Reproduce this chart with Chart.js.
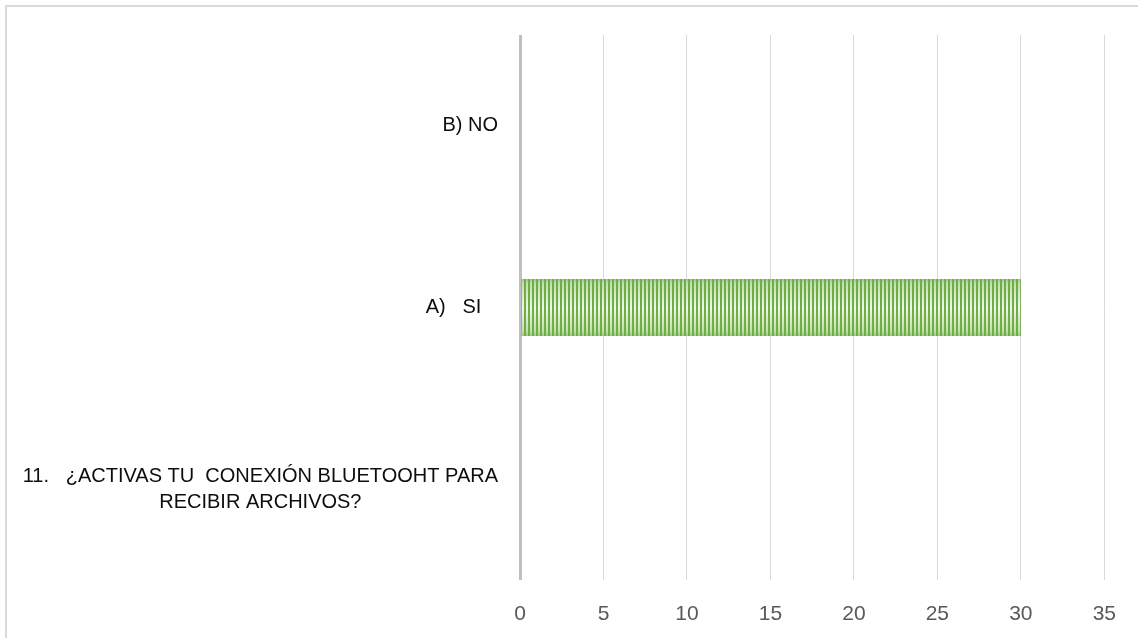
<!DOCTYPE html>
<html>
<head>
<meta charset="utf-8">
<script src="https://cdn.jsdelivr.net/npm/chart.js@4"></script>
<style>
  html, body { margin: 0; padding: 0; background: #ffffff; }
  #wrap { position: relative; width: 1138px; height: 638px; overflow: hidden; }
  #wrap::before {
    content: ""; position: absolute; left: 5px; top: 5px;
    width: 2000px; height: 2000px; border: 2px solid #d9d9d9; box-sizing: border-box;
  }
  canvas { position: absolute; left: 0; top: 0; }
</style>
</head>
<body>
<div id="wrap"><canvas id="chart" width="1138" height="638"></canvas></div>
<script>
// Categories listed bottom-to-top (the axis is reversed)
const categories = [
  ['11.   ¿ACTIVAS TU  CONEXIÓN BLUETOOHT PARA', 'RECIBIR ARCHIVOS?'],
  'A)   SI   ',
  'B) NO'
];
const responses = [null, 30, 0];
const axisMin = 0;
const axisMax = 35;
const axisStep = 5;

const BAR_PCT = 0.314;
const LABEL_FONT = '20px "Liberation Sans", Arial, sans-serif';

// Vertical striped fill with a soft highlight through the middle of the bar
let stripeCache = null;
function stripeFill(ctx) {
  const chart = ctx.chart;
  const y = chart.scales && chart.scales.y;
  if (!y || !chart.chartArea) return '#70ad47';
  const band = y.height / categories.length;
  const half = band * BAR_PCT / 2;
  const center = y.getPixelForValue(ctx.dataIndex);
  const top = center - half, bottom = center + half;
  const key = top.toFixed(1) + ':' + bottom.toFixed(1);
  if (stripeCache && stripeCache.key === key) return stripeCache.pattern;
  const tile = document.createElement('canvas');
  tile.width = 4;
  tile.height = chart.height;
  const t = tile.getContext('2d');
  const g = t.createLinearGradient(0, top, 0, bottom);
  g.addColorStop(0, '#9cc97d');
  g.addColorStop(0.08, '#c2dfae');
  g.addColorStop(0.5, '#eef6e8');
  g.addColorStop(0.92, '#c2dfae');
  g.addColorStop(1, '#9cc97d');
  t.fillStyle = g;
  t.fillRect(0, 0, 4, tile.height);
  t.fillStyle = '#70ad47';
  t.fillRect(0, 0, 2, tile.height);
  const pattern = chart.ctx.createPattern(tile, 'repeat');
  stripeCache = { key, pattern };
  return pattern;
}

// Category labels: each block right-aligned to the axis, lines centred within it
const categoryLabels = {
  id: 'categoryLabels',
  afterDraw(chart) {
    const y = chart.scales.y;
    const c = chart.ctx;
    c.save();
    c.font = LABEL_FONT;
    c.fillStyle = '#0d0d0d';
    c.textAlign = 'center';
    c.textBaseline = 'middle';
    const right = y.right - 22;
    const lineHeight = 26;
    chart.data.labels.forEach((label, i) => {
      const lines = Array.isArray(label) ? label : [label];
      const widest = Math.max(...lines.map(l => c.measureText(l).width));
      const cx = right - widest / 2;
      const cy = y.getPixelForTick(i);
      lines.forEach((line, j) => {
        c.fillText(line, cx, cy + (j - (lines.length - 1) / 2) * lineHeight);
      });
    });
    c.restore();
  }
};

new Chart(document.getElementById('chart'), {
  type: 'bar',
  data: {
    labels: categories,
    datasets: [{
      data: responses,
      backgroundColor: stripeFill,
      borderWidth: 0,
      categoryPercentage: 1,
      barPercentage: BAR_PCT
    }]
  },
  options: {
    indexAxis: 'y',
    responsive: false,
    animation: false,
    devicePixelRatio: 1,
    layout: { padding: { top: 35, right: 32, left: 0, bottom: 0 } },
    plugins: { legend: { display: false }, tooltip: { enabled: false } },
    scales: {
      x: {
        min: axisMin,
        max: axisMax,
        ticks: {
          stepSize: axisStep,
          color: '#595959',
          font: { family: '"Liberation Sans", Arial, sans-serif', size: 21 },
          padding: 22
        },
        grid: {
          drawTicks: false,
          color: (c) => (c.tick && c.tick.value === 0 ? '#bfbfbf' : '#d9d9d9'),
          lineWidth: (c) => (c.tick && c.tick.value === 0 ? 3 : 1)
        },
        border: { display: false },
        afterFit: (scale) => { scale.height = 58; }
      },
      y: {
        reverse: true,
        ticks: { display: false },
        grid: { display: false, drawTicks: false },
        border: { display: false },
        afterFit: (scale) => { scale.width = 520; }
      }
    }
  },
  plugins: [categoryLabels]
});
</script>
</body>
</html>
